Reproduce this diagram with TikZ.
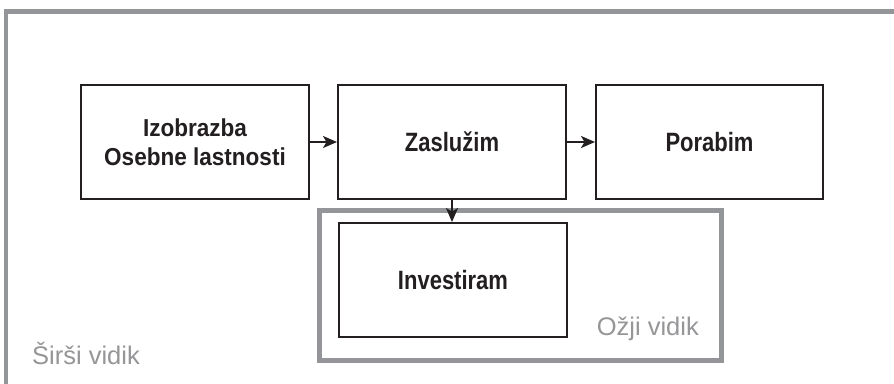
\documentclass[tikz,border=0pt]{standalone}
\usepackage{fontspec}
\setmainfont{Liberation Sans}
\newfontfamily\condfont[FakeStretch=0.83]{Liberation Sans}
\newfontfamily\semicondfont[FakeStretch=0.92]{Liberation Sans}
\usetikzlibrary{arrows.meta}
\definecolor{framegray}{RGB}{147,149,152}
\definecolor{labelgray}{RGB}{150,150,153}
\definecolor{inkblack}{RGB}{35,31,32}
\tikzset{
  x=1pt, y=-1pt,
  stepbox/.style={draw=inkblack, line width=2pt, minimum width=228pt, minimum height=114pt,
    inner sep=0pt, align=center, text=inkblack, font=\condfont\bfseries\fontsize{26.5}{30}\selectfont},
  smallbox/.style={stepbox, font=\semicondfont\bfseries\fontsize{24.5}{29}\selectfont},
  frame/.style={draw=framegray, line width=5pt},
  flow/.style={draw=inkblack, line width=2pt, -{Stealth[length=14pt,width=12pt,inset=3.5pt]}},
  viewlabel/.style={text=labelgray, font=\fontsize{25.5}{30}\selectfont, inner sep=0pt}
}
\begin{document}
\begin{tikzpicture}
\useasboundingbox (0,0) rectangle (894,383);
\fill[white] (0,0) rectangle (894,383);
% outer frame (only top and left visible)
\draw[draw=framegray, line width=4.5pt] (6,390) -- (6,11.5) -- (900,11.5);
% inner frame
\draw[frame] (319.5,210) rectangle (721.5,360);
% boxes
\node[smallbox] (edu) at (195,142) {Izobrazba\\Osebne lastnosti};
\node[stepbox] (earn) at (452,142) {Zaslužim};
\node[stepbox, minimum width=227pt] (spend) at (709.5,142) {Porabim};
\node[stepbox] (inv) at (453,280) {Investiram};
% connectors
\draw[flow] (edu.east) -- (earn.west);
\draw[flow] (earn.east) -- (spend.west);
\draw[flow] (earn.south) -- (earn.south |- inv.north);
% labels
\node[viewlabel, anchor=base west] (wide) at (32,364) {Širši vidik};
\node[viewlabel, anchor=base east] (narrow) at (699,335) {Ožji vidik};
\end{tikzpicture}
\end{document}
